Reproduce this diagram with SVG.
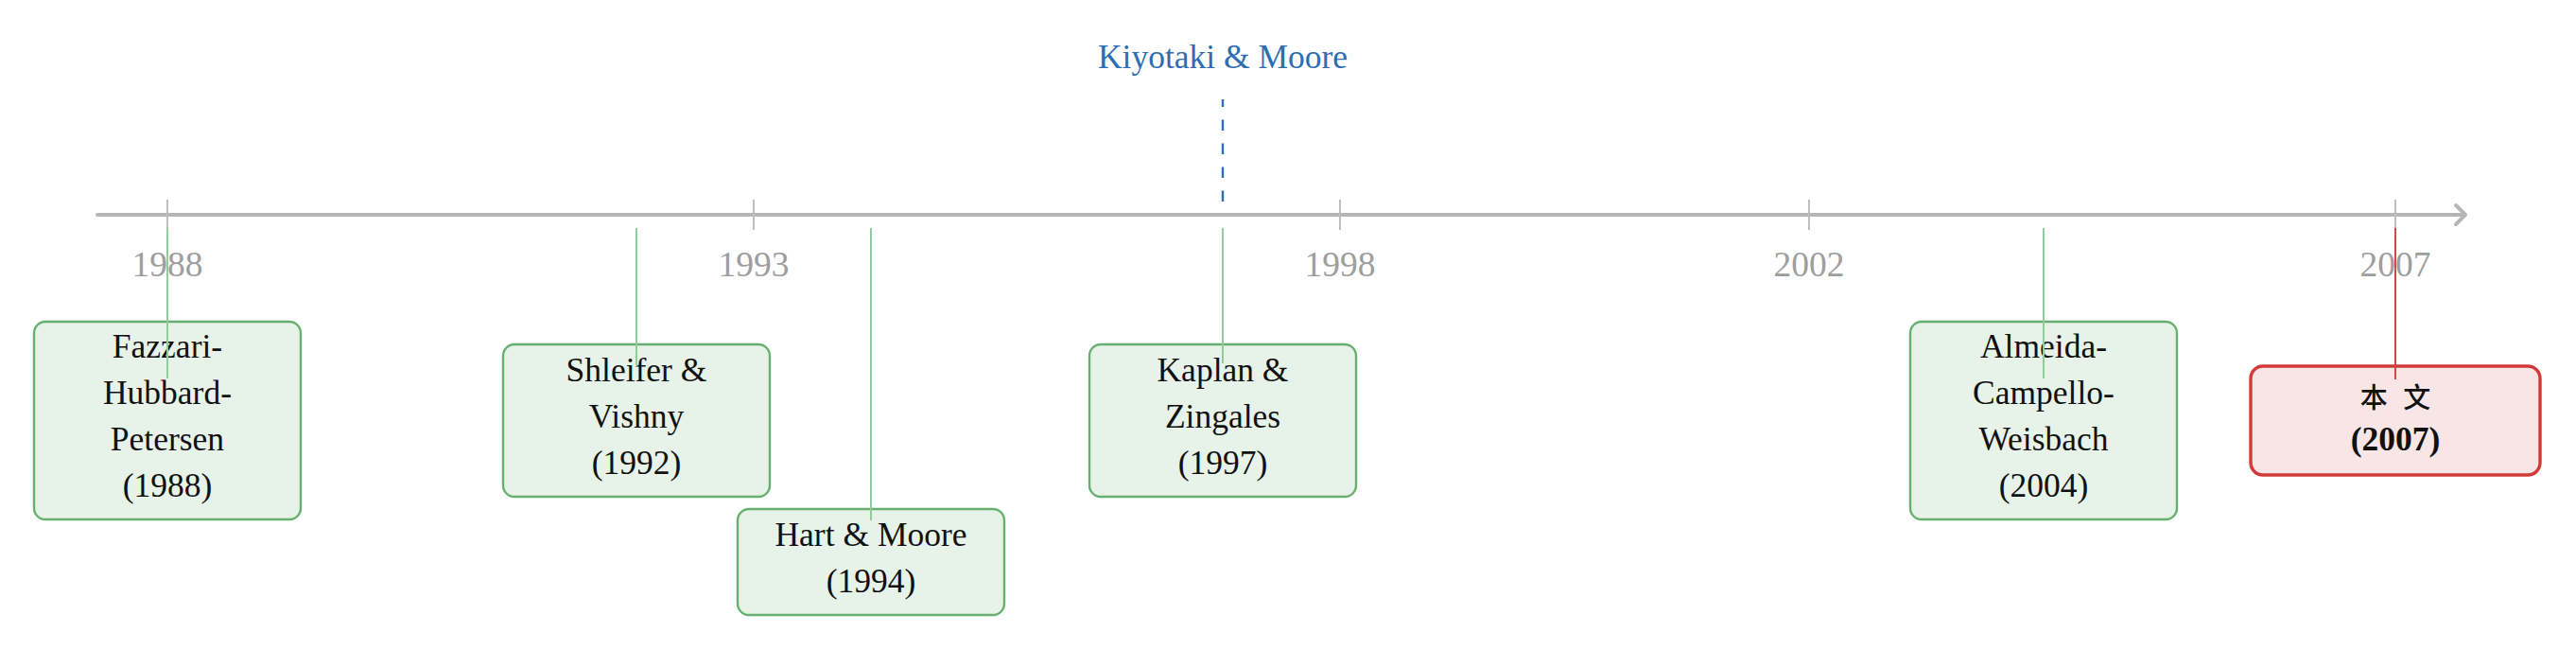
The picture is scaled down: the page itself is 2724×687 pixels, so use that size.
<svg xmlns="http://www.w3.org/2000/svg" width="2724" height="687" viewBox="0 0 2724 687">
<style>
  .axis { stroke: #b6b6b6; stroke-width: 4; fill: none; stroke-linecap: round; stroke-linejoin: round; }
  .tick { stroke: #bdbdbd; stroke-width: 2; }
  .year { font-family: "Liberation Serif", serif; font-size: 37.5px; fill: #9e9e9e; text-anchor: middle; }
  .box { fill: #e7f2e8; stroke: #68b070; stroke-width: 2.4; }
  .box-main { fill: #f8e5e6; stroke: #d23a3a; stroke-width: 3.4; }
  .lbl { font-family: "Liberation Serif", "Noto Sans CJK SC", serif; font-size: 35.5px; fill: #111; text-anchor: middle; }
  .lbl-b { font-weight: bold; }
  .cjk { font-family: "Noto Sans CJK SC", sans-serif; font-size: 29px; font-weight: 500; word-spacing: 10px; }
  .conn { stroke: #94cb9d; stroke-width: 2; }
  .conn-main { stroke: #d94444; stroke-width: 2; }
  .kiyo { font-family: "Liberation Serif", serif; font-size: 35.5px; fill: #2c6db3; text-anchor: middle; }
  .dash { stroke: #2c6db3; stroke-width: 2.4; stroke-dasharray: 11.5 13.5; }
</style>
<rect width="2724" height="687" fill="#ffffff"/>
<g id="axis">
  <line class="axis" x1="103" y1="227" x2="2605" y2="227"/>
  <polyline class="axis" points="2597,217 2607,227 2597,237"/>
  <line class="tick" x1="177" y1="211" x2="177" y2="243"/>
  <line class="tick" x1="797" y1="211" x2="797" y2="243"/>
  <line class="tick" x1="1417" y1="211" x2="1417" y2="243"/>
  <line class="tick" x1="1913" y1="211" x2="1913" y2="243"/>
  <line class="tick" x1="2533" y1="211" x2="2533" y2="243"/>
  <text class="year" x="177" y="292">1988</text>
  <text class="year" x="797" y="292">1993</text>
  <text class="year" x="1417" y="292">1998</text>
  <text class="year" x="1913" y="292">2002</text>
  <text class="year" x="2533" y="292">2007</text>
</g>
<g id="kiyotaki-moore">
  <text class="kiyo" x="1293" y="72">Kiyotaki &amp; Moore</text>
  <line class="dash" x1="1293" y1="213" x2="1293" y2="105"/>
</g>
<g id="node-fazzari">
  <rect class="box" x="36" y="340" width="282" height="209" rx="12"/>
  <text class="lbl" x="177" y="378">Fazzari-</text>
  <text class="lbl" x="177" y="427">Hubbard-</text>
  <text class="lbl" x="177" y="476">Petersen</text>
  <text class="lbl" x="177" y="525">(1988)</text>
</g>
<g id="node-shleifer">
  <rect class="box" x="532" y="364" width="282" height="161" rx="12"/>
  <text class="lbl" x="673" y="403">Shleifer &amp;</text>
  <text class="lbl" x="673" y="452">Vishny</text>
  <text class="lbl" x="673" y="501">(1992)</text>
</g>
<g id="node-hart">
  <rect class="box" x="780" y="538" width="282" height="112" rx="12"/>
  <text class="lbl" x="921" y="577">Hart &amp; Moore</text>
  <text class="lbl" x="921" y="626">(1994)</text>
</g>
<g id="node-kaplan">
  <rect class="box" x="1152" y="364" width="282" height="161" rx="12"/>
  <text class="lbl" x="1293" y="403">Kaplan &amp;</text>
  <text class="lbl" x="1293" y="452">Zingales</text>
  <text class="lbl" x="1293" y="501">(1997)</text>
</g>
<g id="node-almeida">
  <rect class="box" x="2020" y="340" width="282" height="209" rx="12"/>
  <text class="lbl" x="2161" y="378">Almeida-</text>
  <text class="lbl" x="2161" y="427">Campello-</text>
  <text class="lbl" x="2161" y="476">Weisbach</text>
  <text class="lbl" x="2161" y="525">(2004)</text>
</g>
<g id="node-this-paper">
  <rect class="box-main" x="2380" y="387" width="306" height="115" rx="13"/>
  <text class="lbl cjk" x="2533" y="431">本 文</text>
  <text class="lbl lbl-b" x="2533" y="476">(2007)</text>
</g>
<g id="connectors">
  <line class="conn" x1="177" y1="241" x2="177" y2="400"/>
  <line class="conn" x1="673" y1="241" x2="673" y2="387"/>
  <line class="conn" x1="921" y1="241" x2="921" y2="550"/>
  <line class="conn" x1="1293" y1="241" x2="1293" y2="384"/>
  <line class="conn" x1="2161" y1="241" x2="2161" y2="400"/>
  <line class="conn-main" x1="2533" y1="241" x2="2533" y2="401"/>
</g>
</svg>
